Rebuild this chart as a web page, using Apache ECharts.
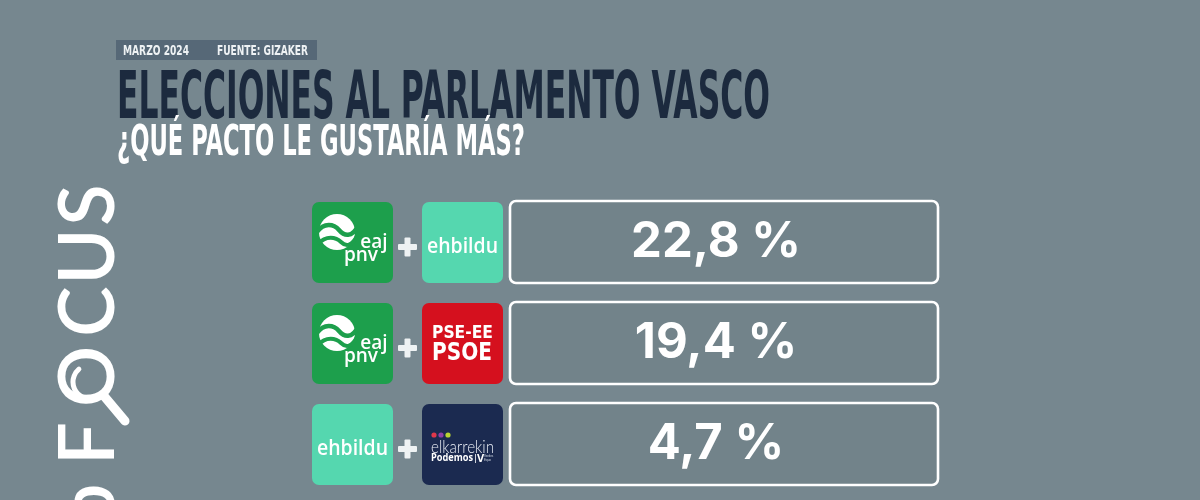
<!DOCTYPE html>
<html>
<head>
<meta charset="utf-8">
<script src="https://cdn.jsdelivr.net/npm/echarts@6/dist/echarts.min.js"></script>
<style>
html,body{margin:0;padding:0;background:#76878f;}
#c{width:1200px;height:500px;}
</style>
</head>
<body>
<div id="c"></div>
<script>
// ---- data ----
const pacts = ['EAJ-PNV + EH Bildu', 'EAJ-PNV + PSE-EE', 'EH Bildu + Elkarrekin Podemos'];
const leftParty = ['pnv', 'pnv', 'bildu'];
const rightParty = ['bildu', 'psoe', 'podemos'];
const values = [22.8, 19.4, 4.7];
const titleText = 'ELECCIONES AL PARLAMENTO VASCO';
const subtitleText = '¿QUÉ PACTO LE GUSTARÍA MÁS?';
const dateText = 'MARZO 2024';
const sourceText = 'FUENTE: GIZAKER';
const brandLetters = ['b', 'F', 'O', 'C', 'U', 'S'];

// ---- helpers ----
const COND = '"DejaVu Sans Condensed", "Liberation Sans Narrow", "DejaVu Sans", sans-serif';
const mctx = document.createElement('canvas').getContext('2d');
function textW(t, size, weight, family) {
  mctx.font = weight + ' ' + size + 'px ' + family;
  return mctx.measureText(t).width;
}
function fitText(t, x, y, targetW, size, weight, family, fill, align) {
  const s = targetW / textW(t, size, weight, family);
  return {
    type: 'text', x: x, y: y, scaleX: s,
    style: { text: t, fill: fill, fontSize: size, fontWeight: weight, fontFamily: family,
      align: align || 'left', verticalAlign: 'middle' }
  };
}
function fmt(v) { return v.toFixed(1).replace('.', ',') + ' %'; }

const TILE = 81;
function logo(party, x, y) {
  const ch = [];
  if (party === 'pnv') {
    ch.push({ type: 'rect', shape: { x: 0, y: 0, width: TILE, height: TILE, r: 7 }, style: { fill: '#1d9f4c' } });
    ch.push({ type: 'circle', shape: { cx: 25, cy: 30, r: 18 }, style: { fill: '#ffffff' } });
    ch.push({ type: 'path', shape: { pathData: 'M5 30 C 12 20, 22 22, 27 28 S 40 36, 46 24' },
      style: { fill: 'none', stroke: '#1d9f4c', lineWidth: 4.5 } });
    ch.push({ type: 'path', shape: { pathData: 'M6 42 C 14 33, 24 35, 29 40 S 40 44, 45 34' },
      style: { fill: 'none', stroke: '#1d9f4c', lineWidth: 4 } });
    ch.push({ type: 'text', x: 62, y: 41, style: { text: 'eaj', fill: '#fff', fontSize: 19, fontWeight: 600,
      fontFamily: '"Open Sans", sans-serif', align: 'center', verticalAlign: 'middle' } });
    ch.push({ type: 'text', x: 49, y: 54, style: { text: 'pnv', fill: '#fff', fontSize: 19, fontWeight: 600,
      fontFamily: '"Open Sans", sans-serif', align: 'center', verticalAlign: 'middle' } });
  } else if (party === 'bildu') {
    ch.push({ type: 'rect', shape: { x: 0, y: 0, width: TILE, height: TILE, r: 7 }, style: { fill: '#55d7af' } });
    ch.push(fitText('ehbildu', 5, 45, 71, 21, 600, '"Open Sans", sans-serif', '#fff'));
  } else if (party === 'psoe') {
    ch.push({ type: 'rect', shape: { x: 0, y: 0, width: TILE, height: TILE, r: 7 }, style: { fill: '#d5101e' } });
    ch.push(fitText('PSE-EE', 10, 30, 61, 18, 'bold', COND, '#fff'));
    ch.push(fitText('PSOE', 10, 50.5, 60, 25, 'bold', COND, '#fff'));
  } else if (party === 'podemos') {
    ch.push({ type: 'rect', shape: { x: 0, y: 0, width: TILE, height: TILE, r: 7 }, style: { fill: '#1b2a50' } });
    ch.push({ type: 'circle', shape: { cx: 12, cy: 31, r: 2.6 }, style: { fill: '#e0384b' } });
    ch.push({ type: 'circle', shape: { cx: 19, cy: 31, r: 2.6 }, style: { fill: '#8d3fa8' } });
    ch.push({ type: 'circle', shape: { cx: 26, cy: 31, r: 2.6 }, style: { fill: '#b9d433' } });
    ch.push(fitText('elkarrekin', 9, 43.5, 63, 17, 300, 'Lato, "Open Sans", sans-serif', '#e9edf5'));
    ch.push(fitText('Podemos', 9, 54.5, 42, 10.5, 'bold', '"Open Sans", sans-serif', '#fff'));
    ch.push({ type: 'rect', shape: { x: 53, y: 50, width: 0.8, height: 9 }, style: { fill: '#fff' } });
    ch.push({ type: 'text', x: 55, y: 54.5, style: { text: 'V', fill: '#fff', fontSize: 11, fontWeight: 'bold',
      fontFamily: '"Open Sans", sans-serif', align: 'left', verticalAlign: 'middle' } });
    ch.push({ type: 'text', x: 62, y: 54, style: { text: 'Verdes\nEquo', fill: '#cfd6e2', fontSize: 3, lineHeight: 3.5,
      fontFamily: 'sans-serif', align: 'left', verticalAlign: 'middle' } });
  }
  return { type: 'group', x: x, y: y, children: ch };
}

function renderItem(params, api) {
  const i = api.value(1);
  const v = api.value(2);
  const yc = api.coord([0, i])[1];
  const gx = params.coordSys.x;
  const gw = params.coordSys.width;
  const top = yc - 40;
  const children = [];
  children.push(logo(leftParty[i], gx, top));
  // plus
  children.push({ type: 'rect', shape: { x: gx + 86, y: yc + 2, width: 19, height: 6, r: 1 }, style: { fill: '#eef2f3' } });
  children.push({ type: 'rect', shape: { x: gx + 92.5, y: yc - 4.5, width: 6, height: 19, r: 1 }, style: { fill: '#eef2f3' } });
  children.push(logo(rightParty[i], gx + 110, top));
  // value box
  const bx = gx + 198;
  children.push({ type: 'rect', shape: { x: bx, y: yc - 41, width: gx + gw - bx, height: 82, r: 6 },
    style: { fill: 'rgba(40,55,65,0.05)', stroke: '#ffffff', lineWidth: 2.6 } });
  children.push({ type: 'text', x: gx + 404, y: yc,
    style: { text: fmt(v), fill: '#ffffff', fontSize: 49, fontWeight: 700,
      fontFamily: 'Inter, "Open Sans", sans-serif', align: 'center', verticalAlign: 'middle' } });
  return { type: 'group', children: children };
}

// ---- brand (vertical) ----
const brandCenters = [505, 443.5, 376.5, 311.5, 256.5, 205];
const brand = brandLetters.map((l, k) => ({
  type: 'text', x: 89, y: brandCenters[k], rotation: Math.PI / 2,
  style: { text: l, fill: '#ffffff', fontSize: 76, fontWeight: 600,
    fontFamily: 'Lato, "Open Sans", sans-serif', align: 'center', verticalAlign: 'middle' }
}));
brand.push({ type: 'line', shape: { x1: 104, y1: 396, x2: 125, y2: 421 },
  style: { stroke: '#ffffff', lineWidth: 9, lineCap: 'round' } });
brand.push({ type: 'arc', shape: { cx: 90, cy: 382, r: 17, startAngle: 1.94, endAngle: 4.0, clockwise: true },
  style: { stroke: '#ffffff', lineWidth: 5, lineCap: 'round', fill: 'none' } });

const chart = echarts.init(document.getElementById('c'), null, { renderer: 'canvas' });
chart.setOption({
  backgroundColor: '#76878f',
  animation: false,
  grid: { left: 312, top: 191.5, width: 626, height: 303 },
  xAxis: { type: 'value', min: 0, max: 1, show: false },
  yAxis: { type: 'category', data: pacts, inverse: true, show: false },
  graphic: [
    { type: 'rect', shape: { x: 116, y: 40, width: 201, height: 20 }, style: { fill: '#566877' } },
    fitText(dateText, 123, 51.5, 66, 14, 'bold', COND, '#eef2f4'),
    fitText(sourceText, 217, 51.5, 91, 14, 'bold', COND, '#eef2f4'),
    fitText(titleText, 117, 101, 653, 65, 'bold', COND, '#1c2a3e'),
    fitText(subtitleText, 117, 144, 408, 42, 'bold', COND, '#ffffff')
  ].concat(brand),
  series: [{
    type: 'custom',
    silent: true,
    clip: false,
    renderItem: renderItem,
    encode: { x: 0, y: 1 },
    data: values.map((v, i) => [0, i, v])
  }]
});
</script>
</body>
</html>
